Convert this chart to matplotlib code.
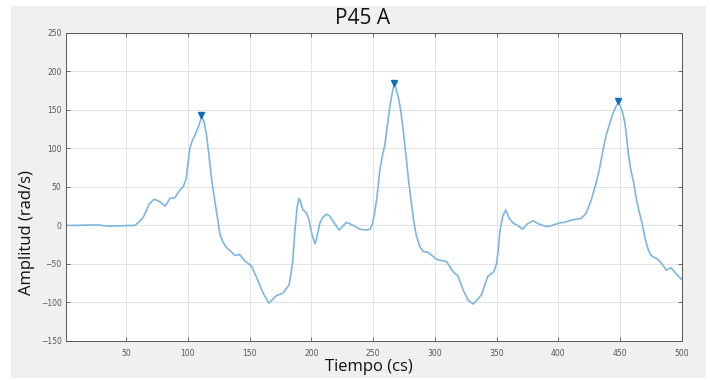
import matplotlib
matplotlib.use("Agg")
import matplotlib.pyplot as plt
from matplotlib.patches import Rectangle

# signal (tiempo in cs, amplitud in rad/s)
tiempo = [1, 10, 20, 28, 35, 45, 57, 60, 64, 68.7, 72.7, 77, 81.6, 85.5, 89.5, 93, 96.2, 98.5,
          100, 101.6, 103.5, 105.7, 108.5, 111, 113, 115, 117, 119, 121, 122.7, 124.5, 126,
          128.5, 131.4, 135, 138, 142, 146, 151.6, 155.7, 161,
          165.6, 168, 171.8, 177, 182, 184.8, 186.7, 188.5, 189.9, 191, 192.9, 196, 198,
          200.2, 202.9, 204.5, 206.9, 209, 212.3, 215, 217.7, 222.5, 225, 228.5, 233.9,
          239.3, 244, 247.6, 249.5, 251, 253, 255.5, 257.5, 259.5, 261.5, 263.6, 265.3,
          266.8, 268.5, 270.5, 272.5, 274.5, 277, 279, 281, 283, 285,
          288, 290.6, 294.6, 301.4, 309.5, 314.8, 318.9, 323, 327, 331, 334, 337.8, 341,
          343, 347.8, 350, 351.5, 352.7, 355, 357.5, 360, 363.4, 367, 371, 375, 379.6, 384,
          390.5, 395, 400.6, 405, 409, 414, 418.5, 422.6, 426.7, 430.7, 433.5, 436.3, 439,
          441.7, 444.5, 447, 448.4, 450, 451.8, 453.9, 455.5, 457, 459, 461, 463.4, 465.5,
          467.8, 470.5, 473, 475, 477.4, 481.3, 484, 487.6, 491.3, 496.2, 500]
amplitud = [0, 0, 0.5, 0.5, -1, -0.5, 0, 4, 11, 28, 34, 31, 25, 35, 36, 45, 50, 60,
            80, 100, 110, 117, 128, 140, 135, 118, 92, 62, 40, 22, 4, -12,
            -22, -29, -34, -39, -38, -46, -53, -68, -88,
            -101, -97, -91, -88, -77, -49, -6, 24, 35, 32, 21, 16, 8,
            -10, -24, -15, 3, 10, 14.5, 12, 5, -6, -2, 4, 0,
            -5, -6, -5, 2, 14, 35, 72, 90, 104, 128, 154, 170,
            182, 178, 166, 148, 122, 85, 55, 29, 5, -13,
            -28, -34, -35, -44, -47, -60, -66, -84, -97, -102, -97, -90, -75,
            -66, -60, -50, -30, -8, 12, 20, 10, 3, 0, -5, 2, 6, 2,
            -1.6, 0, 3, 4, 6, 8, 9, 15.7, 33, 55, 74, 98, 118,
            132, 146, 155, 158, 156, 148, 134, 112, 90, 70, 56, 33, 18,
            4, -18, -32, -39, -41, -45, -50, -58, -55, -64, -70]

pico_t = [111, 267, 448]
pico_a = [143, 185, 161]

xticks = list(range(50, 501, 50))
yticks = list(range(-150, 251, 50))

fig = plt.figure(figsize=(7.1, 3.8), dpi=100)
fig.patch.set_facecolor('white')
fig.patches.append(Rectangle((11/710, 2/380), 695/710, 372/380, transform=fig.transFigure,
                             facecolor='#f0f0f0', edgecolor='none', zorder=-10))

ax = fig.add_axes([65.7/710, 39/380, 616/710, 308.3/380])
ax.set_facecolor('white')
ax.plot(tiempo, amplitud, color='#7db6e0', linewidth=1.2)
ax.plot(pico_t, pico_a, linestyle='none', marker='v', markersize=4.5,
        color='#0a6fbf')

ax.set_xlim(1, 500)
ax.set_ylim(-150, 250)
ax.set_xticks(xticks)
ax.set_yticks(yticks)
ax.grid(True, color='#e3e3e3', linewidth=0.7)
ax.set_axisbelow(True)
ax.tick_params(direction='in', length=3, width=0.6, colors='#555555', labelsize=5.5,
               top=True, right=True, labelcolor='#555555')
ax.tick_params(axis='x', pad=6)
ax.tick_params(axis='y', pad=3)
for s in ax.spines.values():
    s.set_color('#555555')
    s.set_linewidth(0.7)

fig.text(363/710, 1 - 19/380, 'P45 A', ha='center', va='center', fontsize=15,
         family='Open Sans', color='#111111')
fig.text(369/710, 1 - 367/380, 'Tiempo (cs)', ha='center', va='center', fontsize=12,
         family='Open Sans', color='#111111')
fig.text(27/710, 1 - 233/380, 'Amplitud (rad/s)', ha='center', va='center', fontsize=12,
         family='Open Sans', color='#111111', rotation=90)

fig.savefig('out.png', dpi=100, facecolor=fig.get_facecolor())
